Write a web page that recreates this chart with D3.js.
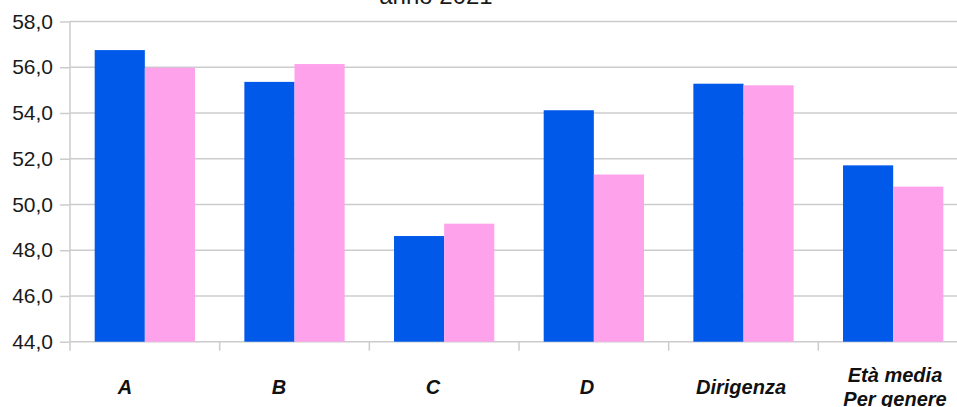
<!DOCTYPE html>
<html>
<head>
<meta charset="utf-8">
<script src="https://cdn.jsdelivr.net/npm/d3@7"></script>
<style>
  body { margin: 0; background: #fff; }
  svg { display: block; font-family: "Liberation Sans", Arial, sans-serif; }
  .grid line { stroke: #cccccc; stroke-width: 1.5; }
  .axis path, .axis line { stroke: #cccccc; stroke-width: 1.5; }
  .axis--y text { font-size: 21px; fill: #1a1a1a; }
  .cat-label { font-size: 20px; font-weight: bold; font-style: italic; fill: #111; }
  .title { font-size: 24px; fill: #1a1a1a; }
</style>
</head>
<body>
<div id="chart"></div>
<script>
// categories and series (età media per genere, anno 2021)
const categories = ["A", "B", "C", "D", "Dirigenza", "Età media\nPer genere"];
const seriesNames = ["Uomini", "Donne"];
const uomini = [56.75, 55.36, 48.62, 54.12, 55.28, 51.71];
const donne  = [55.98, 56.14, 49.16, 51.31, 55.21, 50.78];
const yTicks = [44, 46, 48, 50, 52, 54, 56, 58];
const colors = ["#0059e8", "#ffa2ec"];

const outerWidth = 957, outerHeight = 407;
const margin = {top: 21.5, right: -11, bottom: 65.3, left: 70};
const width = outerWidth - margin.left - margin.right;
const height = outerHeight - margin.top - margin.bottom;

const svg = d3.select("#chart").append("svg")
	.attr("width", outerWidth)
	.attr("height", outerHeight);

// title (mostly cut off at the top, as in the original)
svg.append("text")
	.attr("class", "title")
	.attr("x", 436)
	.attr("y", 4)
	.attr("text-anchor", "middle")
	.text("anno 2021");

const g = svg.append("g")
	.attr("transform", "translate(" + margin.left + "," + margin.top + ")");

const x0 = d3.scaleBand()
	.domain(categories)
	.range([0, width])
	.paddingInner(0.33)
	.paddingOuter(0.165);

const x1 = d3.scaleBand()
	.domain(seriesNames)
	.range([0, x0.bandwidth()]);

// the labels sit on a slightly wider spacing than the bars
const xLabel = d3.scalePoint()
	.domain(categories)
	.range([55, 825]);

const y = d3.scaleLinear()
	.domain([44, 58])
	.range([height, 0]);

// horizontal grid
g.append("g")
	.attr("class", "grid")
	.selectAll("line")
	.data(yTicks)
	.join("line")
	.attr("x1", 0)
	.attr("x2", width)
	.attr("y1", d => y(d))
	.attr("y2", d => y(d));

// bars
const rows = categories.map((c, i) => ({cat: c, values: [uomini[i], donne[i]]}));
const step = width / categories.length;

g.append("g")
	.selectAll("g")
	.data(rows)
	.join("g")
	.attr("transform", d => "translate(" + x0(d.cat) + ",0)")
	.selectAll("rect")
	.data(d => d.values.map((v, j) => ({name: seriesNames[j], value: v, j: j})))
	.join("rect")
	.attr("x", d => x1(d.name))
	.attr("width", x1.bandwidth())
	.attr("y", d => y(d.value))
	.attr("height", d => y(44) - y(d.value))
	.attr("fill", d => colors[d.j]);

// y axis
const yAxis = d3.axisLeft(y)
	.tickValues(yTicks)
	.tickSize(10)
	.tickPadding(7)
	.tickFormat(d => d3.format(".1f")(d).replace(".", ","));

g.append("g")
	.attr("class", "axis axis--y")
	.call(yAxis)
	.call(s => s.select(".domain").attr("d", "M0," + (height) + "V0"));

// x axis: tick marks at band boundaries
const xBounds = d3.range(categories.length + 1).map(i => i * step);
const xAxisG = g.append("g")
	.attr("class", "axis axis--x")
	.attr("transform", "translate(0," + height + ")");

xAxisG.selectAll("line")
	.data(xBounds)
	.join("line")
	.attr("x1", d => d)
	.attr("x2", d => d)
	.attr("y1", 0)
	.attr("y2", 9);

// category labels (bold italic, multi-line)
const labels = g.append("g")
	.selectAll("text")
	.data(categories)
	.join("text")
	.attr("class", "cat-label")
	.attr("text-anchor", "middle")
	.attr("transform", d => "translate(" + xLabel(d) + "," + (height + 52) + ")");

labels.each(function(d) {
	const lines = d.split("\n");
	const t = d3.select(this);
	const lh = 24;
	const start = -(lines.length - 1) * lh / 2;
	lines.forEach((ln, i) => {
		t.append("tspan")
			.attr("x", 0)
			.attr("y", start + i * lh)
			.text(ln);
	});
});
</script>
</body>
</html>
